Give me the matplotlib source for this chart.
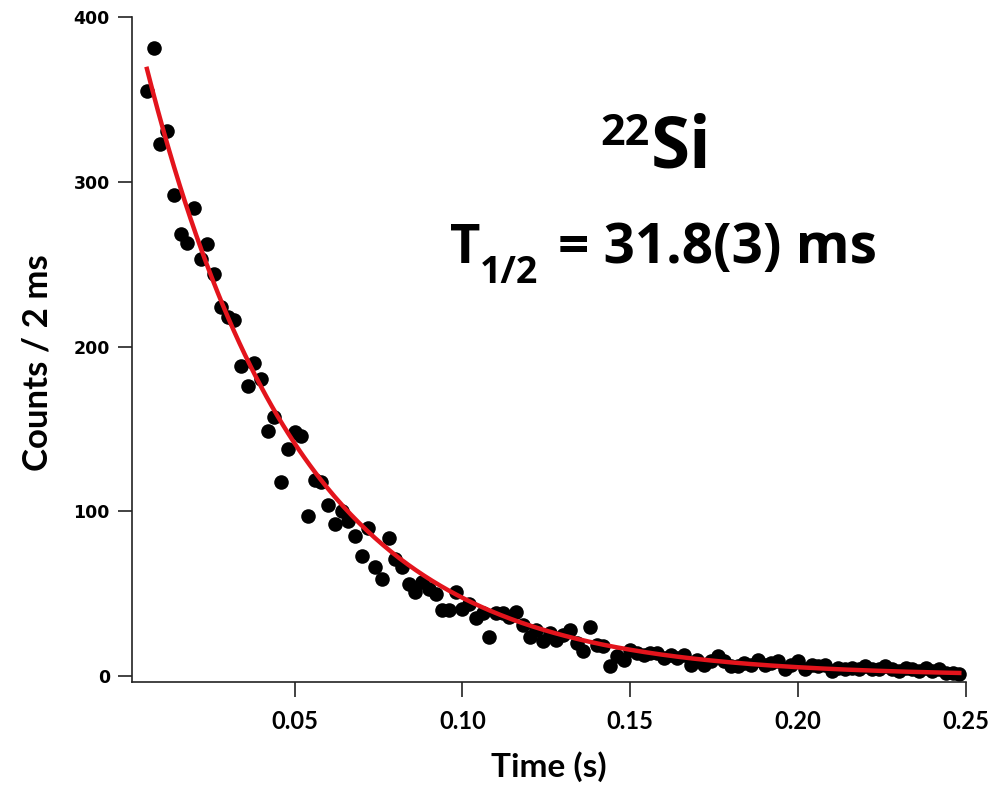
import numpy as np
import matplotlib.pyplot as plt

# counts per 2 ms bin (first bin at 6 ms)
counts = [355, 381, 323, 331, 292, 268, 263, 284, 253, 262,
          244, 224, 218, 216, 188, 176, 190, 180, 149, 157,
          118, 138, 148, 146, 97, 119, 118, 104, 92, 100,
          94, 85, 73, 90, 66, 59, 84, 71, 66,
          56, 51, 57, 53, 50, 40, 40, 51, 41, 44,
          35, 38, 24, 38, 38, 36, 39, 31, 24, 28,
          21, 26, 22, 25, 28, 20, 15, 30, 19, 18,
          6, 12, 10, 16,
          14, 13, 14, 14, 11, 13, 11, 13, 7, 10,
          7, 9, 12, 9, 6, 6, 8, 7, 10, 7,
          8, 9, 4, 7, 9, 4, 7, 6, 7, 3,
          5, 4, 5, 4, 6, 4, 4, 6, 4, 3,
          5, 4, 3, 5, 3, 4, 2, 2, 1]
first_bin = 0.006
bin_width = 0.002
time = first_bin + bin_width * np.arange(len(counts))

# exponential fit
half_life = 0.0318
amplitude = 420
fit_t = np.linspace(time[0], time[-1], 300)
fit_counts = amplitude * np.exp(-np.log(2) * fit_t / half_life)

xticks = [0.05, 0.10, 0.15, 0.20, 0.25]
xtick_labels = ['0.05', '0.10', '0.15', '0.20', '0.25']
yticks = [0, 100, 200, 300, 400]

W, H = 1005, 785
fig = plt.figure(figsize=(W / 100, H / 100), dpi=100)
ax = fig.add_axes([132 / W, (H - 682) / H, (966 - 132) / W, (682 - 17) / H])

ax.scatter(time, counts, s=110, color='black', linewidths=0, zorder=2)
ax.plot(fit_t, fit_counts, color='#e3141c', lw=3.2, zorder=3)

ax.set_xlim(0.00155, 0.25)
ax.set_ylim(-3.6, 400)
ax.set_xticks(xticks)
ax.set_xticklabels(xtick_labels)
ax.set_yticks(yticks)

for side in ['top', 'right']:
    ax.spines[side].set_visible(False)
for side in ['left', 'bottom']:
    ax.spines[side].set_linewidth(1.2)
    ax.spines[side].set_color('#222222')

ax.tick_params(axis='x', direction='out', length=11, width=1.2, pad=9, colors='#222222')
ax.tick_params(axis='y', direction='out', length=10, width=1.2, pad=6, colors='#222222')
for lab in ax.get_xticklabels():
    lab.set_family('Lato')
    lab.set_weight('bold')
    lab.set_fontsize(17)
    lab.set_color('black')
for lab in ax.get_yticklabels():
    lab.set_family('DejaVu Sans')
    lab.set_weight('bold')
    lab.set_fontsize(12.5)
    lab.set_color('black')

ax.set_xlabel('Time (s)', family='Lato', fontweight='bold', fontsize=24, va='center')
ax.xaxis.set_label_coords(0.5, (682 - 767) / 665)
ax.set_ylabel('Counts / 2 ms', family='Lato', fontweight='bold', fontsize=25, va='center')
ax.yaxis.set_label_coords((38 - 132) / 834, (682 - 363) / 665)

# annotation
ann_font = 'Open Sans'
fig.text(650 / W, 1 - 145 / H, '22', family=ann_font, fontweight='bold',
         fontsize=31, ha='right', va='baseline')
fig.text(651 / W, 1 - 167 / H, 'Si', family=ann_font, fontweight='bold',
         fontsize=51, ha='left', va='baseline')
fig.text(450 / W, 1 - 263 / H, 'T', family=ann_font, fontweight='bold',
         fontsize=38, ha='left', va='baseline')
fig.text(480 / W, 1 - 283 / H, '1/2', family=ann_font, fontweight='bold',
         fontsize=27, ha='left', va='baseline')
fig.text(558 / W, 1 - 263 / H, '= 31.8(3) ms', family=ann_font, fontweight='bold',
         fontsize=39.5, ha='left', va='baseline')

fig.savefig('out.png', dpi=100)
